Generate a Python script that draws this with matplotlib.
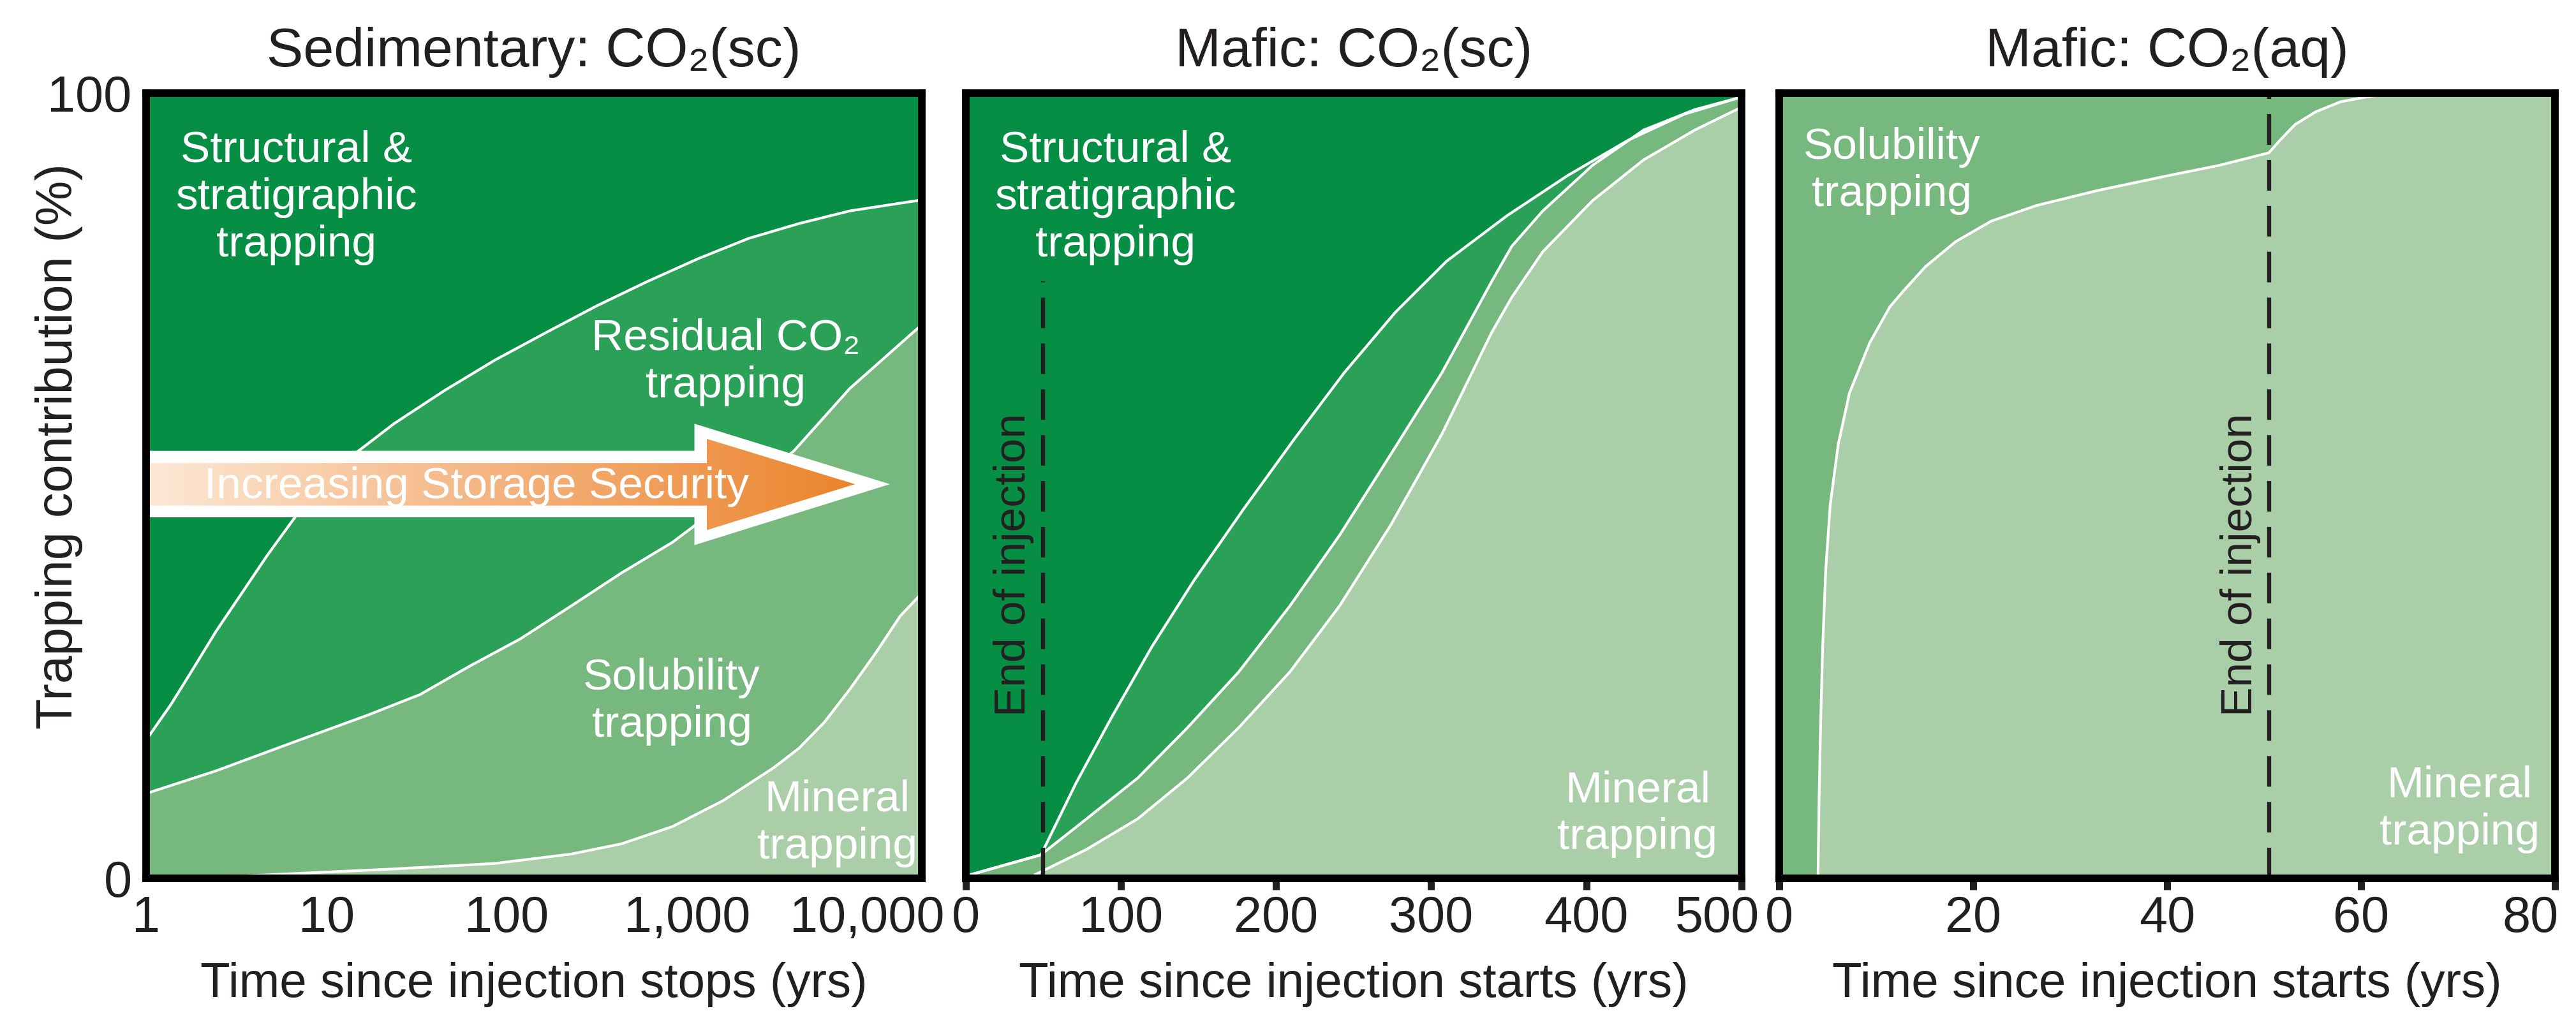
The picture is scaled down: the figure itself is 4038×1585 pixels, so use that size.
import numpy as np
import matplotlib
matplotlib.use('Agg')
import matplotlib.pyplot as plt
from matplotlib.patches import Polygon
from matplotlib.colors import LinearSegmentedColormap
from matplotlib.ticker import NullLocator
from matplotlib.transforms import ScaledTranslation

plt.rcParams['font.family'] = ['Liberation Sans', 'DejaVu Sans']

# region colours
c_struct = '#078e45'
c_resid = '#2aa157'
c_solub = '#77b87f'
c_miner = '#aacfa8'
c_text = '#231f20'

# --- panel 1: Sedimentary CO2(sc), time since injection stops (yrs, log) ---
sed_struct_t = [1, 1.37, 1.78, 2.45, 3.39, 4.69, 6.7, 9.87, 15, 23.7, 45, 86, 165, 315,
                601, 1148, 2196, 4190, 8000, 20000]
sed_struct_y = [17.6, 22.1, 26.3, 31.5, 36.3, 41.1, 46.0, 50.5, 54.4, 57.9, 62.1, 66.0,
                69.5, 72.9, 76.0, 78.9, 81.5, 83.4, 85.0, 86.4]
sed_resid_t = [1, 2.45, 6.5, 17, 33, 62, 119, 228, 433, 830, 3900, 8000, 20000]
sed_resid_y = [10.8, 13.7, 17.3, 20.8, 23.4, 27.0, 30.5, 34.7, 38.9, 42.8, 54.4, 62.4, 70.5]
sed_solub_t = [1, 3.39, 6.5, 23.7, 86, 228, 433, 830, 1585, 3027, 4190, 5780, 8000,
               11040, 15200, 20000]
sed_solub_y = [0, 0.3, 0.6, 1.2, 1.9, 3.1, 4.4, 6.6, 9.9, 14.1, 16.6, 19.9, 24.1,
               28.6, 33.4, 36.3]
sed_ticks = [1, 10, 100, 1000, 10000]
sed_ticklabels = ['1', '10', '100', '1,000', '10,000']

# --- panel 2: Mafic CO2(sc), time since injection starts (yrs) ---
msc_struct_t = [0, 48.5, 71, 94, 120, 147, 179, 212, 244, 277, 310, 349, 388, 427, 463, 500]
msc_struct_y = [0.3, 3.0, 12.1, 20.5, 29.5, 37.9, 47.0, 56.0, 64.4, 72.1, 78.6, 84.4, 89.5, 94.0, 97.3, 99.5]
msc_resid_t = [0, 48.5, 78, 111, 143, 176, 209, 241, 274, 307, 339, 352, 372, 404, 437, 470, 500]
msc_resid_y = [0.3, 3.0, 7.6, 12.8, 19.2, 26.3, 34.7, 43.7, 54.0, 64.4, 76.0, 80.5, 85.0, 90.8, 95.3, 97.9, 99.5]
msc_solub_t = [0, 45, 78, 111, 143, 176, 209, 241, 274, 307, 339, 352, 372, 404, 437, 470, 500]
msc_solub_y = [0, 0.5, 3.7, 7.6, 12.8, 19.2, 26.3, 34.7, 45.0, 56.6, 69.5, 74.0, 79.8, 86.3, 91.5, 95.3, 98.2]
msc_end = 50

# --- panel 3: Mafic CO2(aq) ---
maq_t = [0, 4.0, 4.11, 4.27, 4.48, 4.79, 5.26, 6.09, 7.24, 9.33, 11.42, 12.73, 15.08,
         18.21, 21.87, 26.57, 32.84, 40.15, 45.38, 50.5, 51.65, 53.2, 55.3, 57.9, 60.5,
         63.1, 80]
maq_y = [0, 0.3, 10.2, 19.9, 29.5, 39.2, 47.6, 55.3, 61.8, 68.2, 72.8, 74.7, 77.9,
         81.1, 83.7, 85.7, 87.6, 89.5, 90.8, 92.4, 94.0, 96.0, 97.6, 98.9, 99.5,
         100, 100]
maq_end = 50.5

fig = plt.figure(figsize=(40.38, 15.85), dpi=100)
ax1 = fig.add_axes([0.0567, 0.1312, 0.3011, 0.7767])
ax2 = fig.add_axes([0.3749, 0.1312, 0.3011, 0.7767])
ax3 = fig.add_axes([0.6907, 0.1312, 0.3011, 0.7767])

lab_fs = 50
tick_fs = 57
xlab_fs = 55
title_fs = 62
white_lw = 3
dash = (0, (7.5, 3.75))

def frame(ax):
    for s in ax.spines.values():
        s.set_linewidth(8.5)
        s.set_color('black')
    ax.set_ylim(0, 100)

def nudge_last_label(ax):
    # the reference pulls the right-most tick label inward
    last = ax.get_xticklabels()[-1]
    last.set_transform(last.get_transform() + ScaledTranslation(-0.38, 0, fig.dpi_scale_trans))

# panel 1
ax1.set_facecolor(c_struct)
ax1.set_xscale('log')
ax1.fill_between(sed_struct_t, 0, sed_struct_y, color=c_resid, lw=0)
ax1.fill_between(sed_resid_t, 0, sed_resid_y, color=c_solub, lw=0)
ax1.fill_between(sed_solub_t, 0, sed_solub_y, color=c_miner, lw=0)
for t, y in [(sed_struct_t, sed_struct_y), (sed_resid_t, sed_resid_y), (sed_solub_t, sed_solub_y)]:
    ax1.plot(t, y, color='white', lw=white_lw, solid_joinstyle='round')
frame(ax1)
ax1.set_xlim(1, 20000)
ax1.set_xticks(sed_ticks)
ax1.set_xticklabels(sed_ticklabels)
ax1.xaxis.set_minor_locator(NullLocator())
ax1.set_yticks([0, 100])
ax1.set_yticklabels(['0', '100'])
ax1.tick_params(axis='x', length=0, pad=19, labelsize=tick_fs, colors=c_text)
ax1.tick_params(axis='y', length=0, pad=16, labelsize=tick_fs, colors=c_text)
ax1.set_xlabel('Time since injection stops (yrs)', fontsize=xlab_fs, labelpad=21, color=c_text)
ax1.set_ylabel('Trapping contribution (%)', fontsize=57, va='center', color=c_text)
ax1.yaxis.set_label_coords(-0.112, 0.55)
ax1.set_title('Sedimentary: CO\u2082(sc)', fontsize=title_fs, pad=30, color=c_text)

ax1.text(0.194, 0.867, 'Structural &\nstratigraphic\ntrapping', transform=ax1.transAxes,
         ha='center', va='center', fontsize=lab_fs, color='white', zorder=4)
ax1.text(0.747, 0.657, 'Residual CO\u2082\ntrapping', transform=ax1.transAxes,
         ha='center', va='center', fontsize=lab_fs, color='white', zorder=4)
ax1.text(0.678, 0.225, 'Solubility\ntrapping', transform=ax1.transAxes,
         ha='center', va='center', fontsize=lab_fs, color='white', zorder=4)
ax1.text(0.891, 0.070, 'Mineral\ntrapping', transform=ax1.transAxes,
         ha='center', va='center', fontsize=lab_fs, color='white', zorder=4)

# storage security arrow
arr = ax1.inset_axes([0, 0, 1, 1], zorder=2.2)
outer = [(0, 0.5445), (0.707, 0.5445), (0.707, 0.579), (0.959, 0.502),
         (0.707, 0.4244), (0.707, 0.4598), (0, 0.4598)]
inner = [(0, 0.5288), (0.723, 0.5288), (0.723, 0.5597), (0.914, 0.502),
         (0.723, 0.4435), (0.723, 0.4747), (0, 0.4747)]
arr.add_patch(Polygon(outer, closed=True, fc='white', ec='none', zorder=1))
inner_p = Polygon(inner, closed=True, fc='none', ec='none')
arr.add_patch(inner_p)
cmap = LinearSegmentedColormap.from_list('arrow', ['#fde8d6', '#f4b37e', '#eb842c'])
grad = np.linspace(0, 1, 256).reshape(1, -1)
im = arr.imshow(grad, cmap=cmap, extent=[0, 0.914, 0.44, 0.56], aspect='auto',
                interpolation='bicubic', zorder=3)
im.set_clip_path(inner_p)
arr.set_xlim(0, 1)
arr.set_ylim(0, 1)
arr.axis('off')
ax1.text(0.4257, 0.499, 'Increasing Storage Security', transform=ax1.transAxes,
         ha='center', va='center', fontsize=50, color='white', zorder=4)

# panel 2
ax2.set_facecolor(c_struct)
ax2.fill_between(msc_struct_t, 0, msc_struct_y, color=c_resid, lw=0)
ax2.fill_between(msc_resid_t, 0, msc_resid_y, color=c_solub, lw=0)
ax2.fill_between(msc_solub_t, 0, msc_solub_y, color=c_miner, lw=0)
for t, y in [(msc_struct_t, msc_struct_y), (msc_resid_t, msc_resid_y), (msc_solub_t[1:], msc_solub_y[1:])]:
    ax2.plot(t, y, color='white', lw=white_lw, solid_joinstyle='round')
ax2.plot([msc_end, msc_end], [0, 76], color=c_text, lw=4.6, ls=dash)
frame(ax2)
ax2.set_xlim(0, 500)
ax2.set_xticks(range(0, 501, 100))
ax2.set_yticks([])
ax2.tick_params(axis='x', length=13, width=8, pad=6, labelsize=tick_fs, colors=c_text)
ax2.set_xlabel('Time since injection starts (yrs)', fontsize=xlab_fs, labelpad=21, color=c_text)
ax2.set_title('Mafic: CO\u2082(sc)', fontsize=title_fs, pad=30, color=c_text)
nudge_last_label(ax2)
ax2.text(0.193, 0.867, 'Structural &\nstratigraphic\ntrapping', transform=ax2.transAxes,
         ha='center', va='center', fontsize=lab_fs, color='white', zorder=4)
ax2.text(0.866, 0.082, 'Mineral\ntrapping', transform=ax2.transAxes,
         ha='center', va='center', fontsize=lab_fs, color='white', zorder=4)
ax2.text(31, 39.9, 'End of injection', rotation=90, ha='center', va='center',
         fontsize=lab_fs, color=c_text)

# panel 3
ax3.set_facecolor(c_solub)
ax3.fill_between(maq_t, 0, maq_y, color=c_miner, lw=0)
ax3.plot(maq_t[1:], maq_y[1:], color='white', lw=white_lw, solid_joinstyle='round')
ax3.plot([maq_end, maq_end], [0, 100], color=c_text, lw=4.6, ls=dash)
frame(ax3)
ax3.set_xlim(0, 80)
ax3.set_xticks(range(0, 81, 20))
ax3.set_yticks([])
ax3.tick_params(axis='x', length=13, width=8, pad=6, labelsize=tick_fs, colors=c_text)
ax3.set_xlabel('Time since injection starts (yrs)', fontsize=xlab_fs, labelpad=21, color=c_text)
ax3.set_title('Mafic: CO\u2082(aq)', fontsize=title_fs, pad=30, color=c_text)
nudge_last_label(ax3)
ax3.text(0.1454, 0.901, 'Solubility\ntrapping', transform=ax3.transAxes,
         ha='center', va='center', fontsize=lab_fs, color='white', zorder=4)
ax3.text(0.877, 0.088, 'Mineral\ntrapping', transform=ax3.transAxes,
         ha='center', va='center', fontsize=lab_fs, color='white', zorder=4)
ax3.text(47.6, 39.9, 'End of injection', rotation=90, ha='center', va='center',
         fontsize=lab_fs, color=c_text)

fig.savefig('out.png', dpi=100)
